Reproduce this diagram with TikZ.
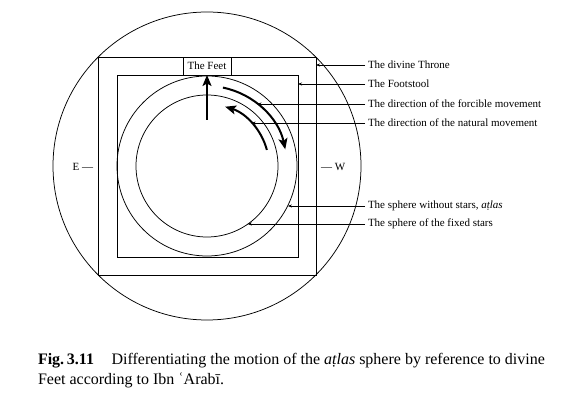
\documentclass[tikz,border=0pt]{standalone}
\usepackage{fontspec}
\setmainfont{Liberation Serif}
\usetikzlibrary{arrows.meta}
\begin{document}
\begin{tikzpicture}[x=1pt,y=1pt,
  every node/.style={outer sep=0pt},
  thinline/.style={draw, line width=0.75pt},
  lab/.style={anchor=west, inner sep=0pt, inner xsep=3pt, font=\fontsize{11}{12}\selectfont},
  lead/.style={-{Stealth[length=4pt,width=3pt]}, line width=0.5pt},
  bigarrow/.style={line width=2pt, -{Stealth[length=11pt,width=9pt,inset=2.5pt]}},
  captext/.style={anchor=base west, inner sep=0pt, font=\fontsize{16}{19}\selectfont}
]
\useasboundingbox (0,0) rectangle (584,418);
\fill[white] (0,0) rectangle (584,418);
\coordinate (C) at (207,252);
% circles and squares
\node[circle, thinline, minimum size=308pt, inner sep=0pt] (heaven) at (C) {};
\node[thinline, minimum width=218pt, minimum height=218pt, inner sep=0pt] (throne) at (C) {};
\node[thinline, minimum width=181pt, minimum height=182pt, inner sep=0pt] (footstool) at (207.5,252) {};
\node[thinline, minimum width=48pt, minimum height=18pt, inner sep=0pt, font=\fontsize{11}{12}\selectfont] (feet) at (207,352) {The Feet};
\node[circle, thinline, minimum size=180pt, inner sep=0pt] (atlas) at (C) {};
\node[circle, thinline, minimum size=142pt, inner sep=0pt] (fixed) at (C) {};
% thick arrows
\coordinate (tail) at (207,298);
\draw[bigarrow] (tail) -- (feet.south);
\draw[bigarrow] (C) ++(78.5:80pt) arc[start angle=78.5, end angle=12, radius=80pt];
\draw[bigarrow] (C) ++(15:62pt) arc[start angle=15, end angle=73, radius=62pt];
\path (C) ++(50.8:80pt) coordinate (forc);
\path (C) ++(43.9:62pt) coordinate (natu);
% labels
\node[lab] (l1) at (365,353) {The divine Throne};
\node[lab] (l2) at (365,334) {The Footstool};
\node[lab] (l3) at (365,314) {The direction of the forcible movement};
\node[lab] (l4) at (365,295) {The direction of the natural movement};
\node[lab] (l5) at (365,212) {The sphere without stars, \textit{aṭlas}};
\node[lab] (l6) at (365,194) {The sphere of the fixed stars};
\draw[lead] (l1.west) -- (l1.west -| throne.east);
\draw[lead] (l2.west) -- (l2.west -| footstool.east);
\draw[lead] (l3.west) -- (l3.west -| forc);
\draw[lead] (l4.west) -- (l4.west -| natu);
\draw[lead] (l5.west) -- (l5.west -| atlas.-26);
\draw[lead] (l6.west) -- (l6.west -| fixed.-55);
% E and W
\node[anchor=east, inner sep=0pt, font=\fontsize{11}{12}\selectfont] (E) at (93,251) {E —};
\node[anchor=west, inner sep=0pt, font=\fontsize{11}{12}\selectfont] (W) at (321,251) {— W};
% caption
\node[captext] (cap1) at (38,53) {\textbf{Fig.\,3.11}\hspace{1.1em}Differentiating the motion of the \textit{aṭlas} sphere by reference to divine};
\node[captext] (cap2) at (38,34) {Feet according to Ibn ʿArabī.};
\end{tikzpicture}
\end{document}
